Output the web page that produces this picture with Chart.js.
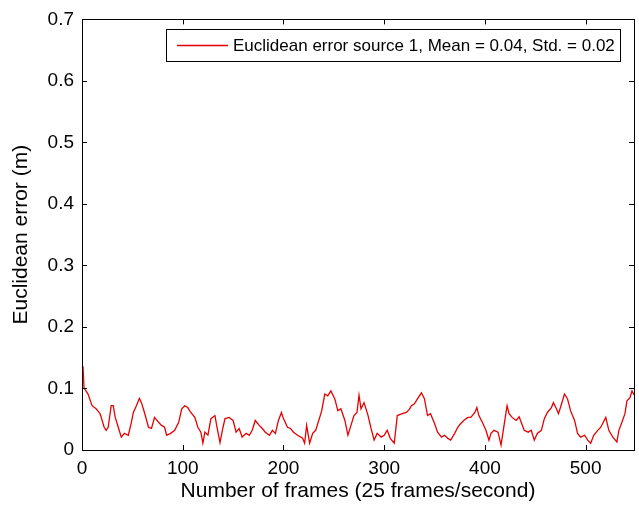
<!DOCTYPE html>
<html>
<head>
<meta charset="utf-8">
<script src="https://cdn.jsdelivr.net/npm/chart.js@4.4.1/dist/chart.umd.min.js"></script>
<style>
  html, body { margin: 0; padding: 0; background: #fff; }
  #wrap { width: 639px; height: 508px; }
</style>
</head>
<body>
<div id="wrap"><canvas id="errChart" width="639" height="508"></canvas></div>
<script>
// values (frame number, error in metres)
const frames = [0, 1, 2, 6, 10, 14, 18, 22, 24, 26, 29, 31, 33, 36, 39, 42, 46, 49, 51, 54, 57, 59, 62, 66, 69, 72, 76, 79, 82, 84, 88, 92, 96, 99,
  102, 105, 108, 112, 115, 118, 120, 122, 125, 128, 132, 134, 137, 140, 142, 146, 150, 153, 156, 159, 163, 166, 169, 172, 176, 179, 182, 186, 189, 192, 195, 198,
  200, 204, 207, 210, 214, 219, 221, 223, 226, 229, 232, 236, 238, 241, 244, 247, 251, 254, 257, 261, 264, 267, 270, 273, 275, 277, 280, 284, 287, 290, 293, 297,
  300, 303, 306, 310, 313, 318, 322, 325, 327, 330, 333, 337, 340, 343, 346, 350, 353, 357, 360, 363, 366, 370, 373, 376, 379, 383, 386, 390, 392, 394, 398,
  401, 404, 406, 409, 413, 416, 419, 422, 424, 427, 431, 434, 436, 439, 443, 446, 449, 452, 456, 459, 462, 466, 468, 471, 473, 475, 479, 482, 485, 489, 492, 495, 499,
  502, 505, 508, 512, 515, 520, 523, 527, 531, 533, 536, 539, 541, 544, 546, 548];
const errors = [0.115, 0.136, 0.101, 0.091, 0.072, 0.067, 0.059, 0.037, 0.032, 0.037, 0.072, 0.072, 0.053, 0.037, 0.021, 0.027, 0.024, 0.045, 0.061, 0.072, 0.084, 0.077, 0.061, 0.037, 0.035, 0.053, 0.045, 0.040, 0.037, 0.024, 0.027, 0.032, 0.045, 0.067,
  0.072, 0.069, 0.061, 0.053, 0.037, 0.029, 0.011, 0.029, 0.024, 0.051, 0.056, 0.037, 0.012, 0.037, 0.051, 0.053, 0.048, 0.029, 0.035, 0.021, 0.027, 0.024, 0.032, 0.048, 0.040, 0.035, 0.029, 0.024, 0.032, 0.027, 0.048, 0.061,
  0.051, 0.037, 0.035, 0.029, 0.024, 0.019, 0.011, 0.040, 0.011, 0.027, 0.032, 0.053, 0.064, 0.091, 0.088, 0.096, 0.083, 0.064, 0.067, 0.048, 0.024, 0.040, 0.056, 0.061, 0.089, 0.067, 0.077, 0.056, 0.035, 0.016, 0.027, 0.021,
  0.024, 0.032, 0.019, 0.011, 0.056, 0.059, 0.061, 0.066, 0.072, 0.075, 0.083, 0.093, 0.083, 0.056, 0.059, 0.043, 0.029, 0.021, 0.024, 0.019, 0.016, 0.027, 0.037, 0.043, 0.048, 0.053, 0.053, 0.061, 0.069, 0.056, 0.043,
  0.032, 0.016, 0.027, 0.032, 0.029, 0.008, 0.040, 0.072, 0.059, 0.053, 0.048, 0.054, 0.045, 0.032, 0.029, 0.032, 0.016, 0.027, 0.032, 0.051, 0.061, 0.069, 0.077, 0.067, 0.059, 0.069, 0.091, 0.083, 0.064, 0.048, 0.027, 0.021, 0.024,
  0.016, 0.011, 0.024, 0.032, 0.037, 0.053, 0.032, 0.021, 0.013, 0.032, 0.045, 0.059, 0.080, 0.085, 0.096, 0.090];
const xTicks = [0, 100, 200, 300, 400, 500];
const yTicks = [0, 0.1, 0.2, 0.3, 0.4, 0.5, 0.6, 0.7];
const seriesLabel = 'Euclidean error source 1, Mean = 0.04, Std. = 0.02';

const points = frames.map((f, i) => ({ x: f, y: errors[i] }));
const fontName = '"Liberation Sans", Arial, sans-serif';

// matlab-style box with inward ticks on every side, plus the legend box
const boxPlugin = {
    id: 'matlabBox',
    afterDraw(chart) {
        const { ctx, chartArea: a, scales } = chart;
        ctx.save();
        ctx.strokeStyle = '#000';
        ctx.lineWidth = 1;
        ctx.strokeRect(Math.round(a.left) + 0.5, Math.round(a.top) + 0.5, Math.round(a.right - a.left), Math.round(a.bottom - a.top));
        ctx.beginPath();
        xTicks.forEach(v => {
            const px = Math.round(scales.x.getPixelForValue(v)) + 0.5;
            ctx.moveTo(px, a.bottom); ctx.lineTo(px, a.bottom - 5);
            ctx.moveTo(px, a.top); ctx.lineTo(px, a.top + 5);
        });
        yTicks.forEach(v => {
            const py = Math.round(scales.y.getPixelForValue(v)) + 0.5;
            ctx.moveTo(a.left, py); ctx.lineTo(a.left + 5, py);
            ctx.moveTo(a.right, py); ctx.lineTo(a.right - 5, py);
        });
        ctx.stroke();

        // legend
        const lx = 166, ly = 29, lw = 454, lh = 32;
        ctx.fillStyle = '#fff';
        ctx.fillRect(lx, ly, lw, lh);
        ctx.strokeRect(lx + 0.5, ly + 0.5, lw, lh);
        ctx.strokeStyle = 'rgb(230,0,0)';
        ctx.lineWidth = 1.3;
        ctx.beginPath();
        ctx.moveTo(177, ly + lh / 2 + 0.5);
        ctx.lineTo(228, ly + lh / 2 + 0.5);
        ctx.stroke();
        ctx.fillStyle = '#000';
        ctx.font = '17px ' + fontName;
        ctx.textBaseline = 'middle';
        ctx.fillText(seriesLabel, 233, ly + lh / 2 + 1);
        ctx.restore();
    }
};

new Chart(document.getElementById('errChart'), {
    type: 'line',
    data: {
        datasets: [{
            label: seriesLabel,
            data: points,
            borderColor: 'rgb(230,0,0)',
            borderWidth: 1.3,
            pointRadius: 0,
            tension: 0,
            fill: false
        }]
    },
    options: {
        responsive: false,
        animation: false,
        layout: { padding: { top: 14, right: 5, left: 0, bottom: 0 } },
        plugins: {
            legend: { display: false },
            tooltip: { enabled: false }
        },
        scales: {
            x: {
                type: 'linear',
                min: 0,
                max: 548,
                afterBuildTicks: scale => { scale.ticks = xTicks.map(v => ({ value: v })); },
                afterFit: scale => { scale.height = 58; },
                grid: { display: false, drawTicks: false },
                border: { display: false },
                ticks: { color: '#000', padding: 7, maxRotation: 0, font: { family: fontName, size: 19 } },
                title: { display: true, text: 'Number of frames (25 frames/second)', color: '#000', padding: { top: 0 }, font: { family: fontName, size: 21 } }
            },
            y: {
                min: 0,
                max: 0.7,
                afterBuildTicks: scale => { scale.ticks = yTicks.map(v => ({ value: v })); },
                afterFit: scale => { scale.width = 82; },
                grid: { display: false, drawTicks: false },
                border: { display: false },
                ticks: { color: '#000', padding: 8, font: { family: fontName, size: 19 },
                    callback: v => (v === 0 ? '0' : v.toFixed(1)) },
                title: { display: true, text: 'Euclidean error (m)', color: '#000', padding: { top: 9, bottom: 0 }, font: { family: fontName, size: 21 } }
            }
        }
    },
    plugins: [boxPlugin]
});
</script>
</body>
</html>
